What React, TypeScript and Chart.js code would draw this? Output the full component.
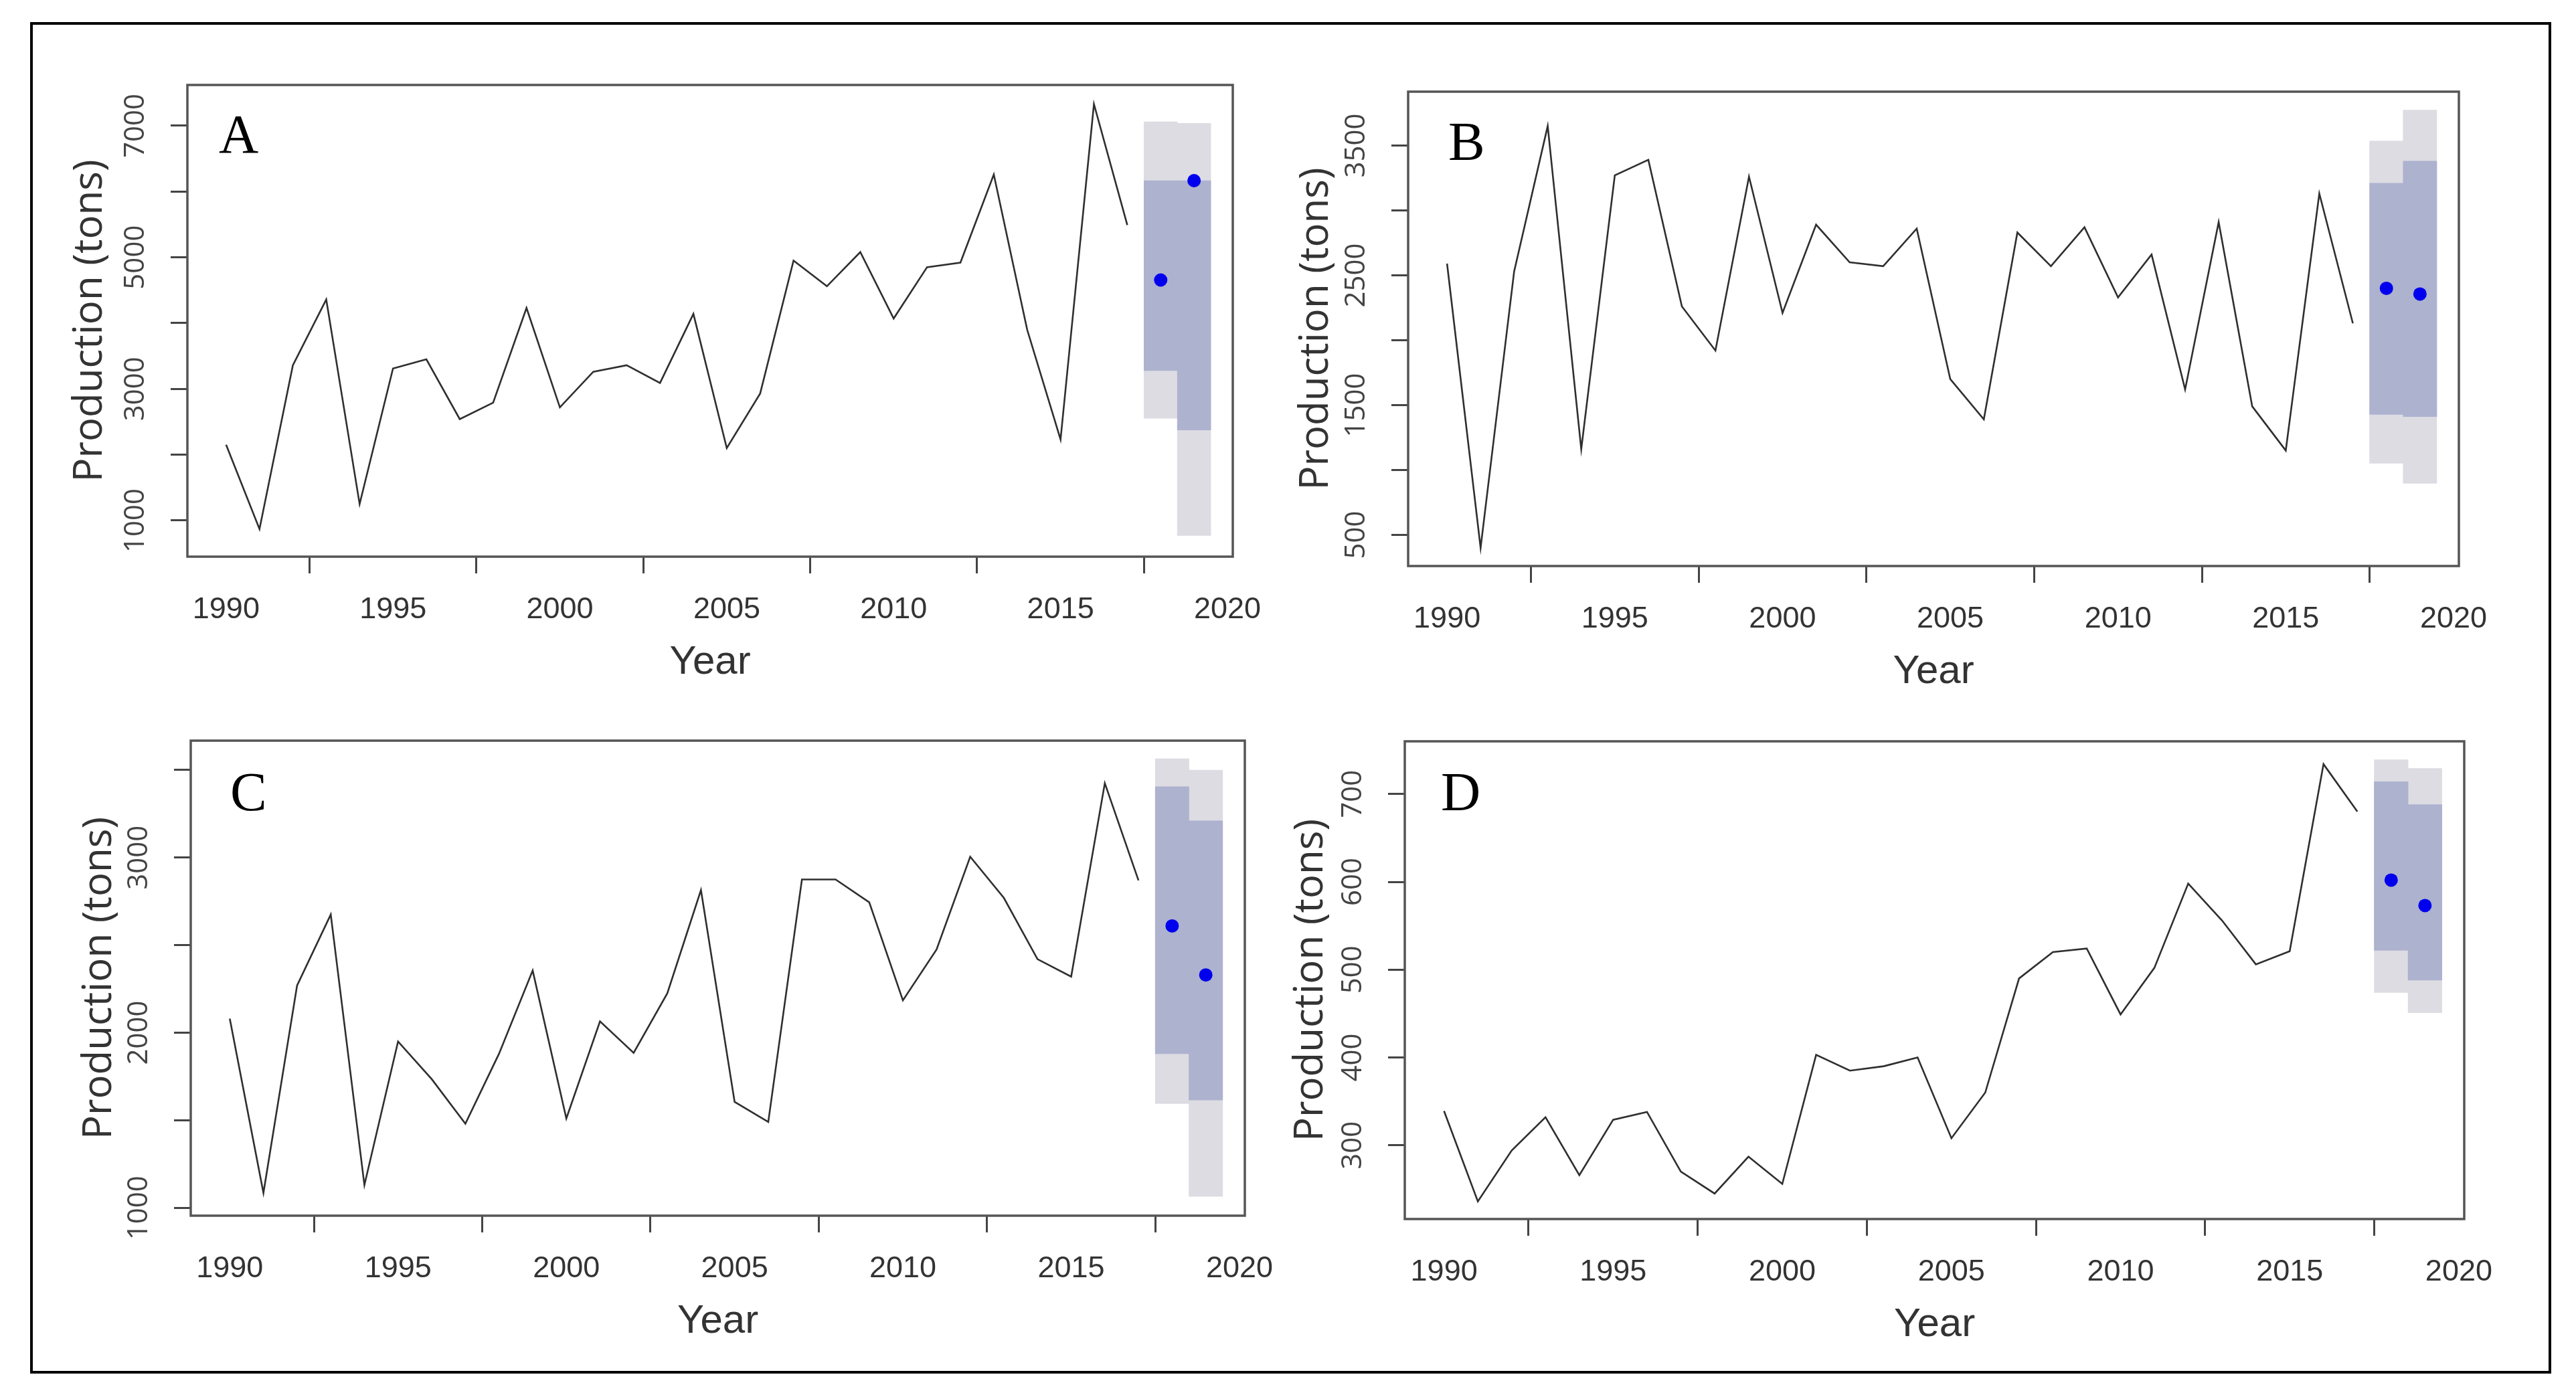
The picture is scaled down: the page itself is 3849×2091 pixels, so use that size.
import React, { useEffect, useRef } from 'react';
import { Chart, registerables } from 'chart.js';

Chart.register(...registerables);

// ---------- data ----------
const years = [
  1990, 1991, 1992, 1993, 1994, 1995, 1996, 1997, 1998, 1999,
  2000, 2001, 2002, 2003, 2004, 2005, 2006, 2007, 2008, 2009,
  2010, 2011, 2012, 2013, 2014, 2015, 2016, 2017,
];
const forecastYears = [2018, 2019];
const xTicks = [1990, 1995, 2000, 2005, 2010, 2015, 2020];
const xTickLabels = ['1990', '1995', '2000', '2005', '2010', '2015', '2020'];

// Panel A
const prodA = [2150, 870, 3360, 4360, 1250, 3310, 3450, 2540, 2790, 4230, 2720, 3260, 3360, 3090, 4140, 2100, 2930, 4950, 4560, 5080, 4070, 4850, 4920, 6260, 3900, 2230, 7330, 5490];
const fcA = [4655, 6166];
const lo80A = [3277, 2375];
const hi80A = [6166, 6166];
const lo95A = [2554, 770];
const hi95A = [7061, 7038];
const yTicksA = [1000, 2000, 3000, 4000, 5000, 6000, 7000];
const yLabelsA = ['1000', '3000', '5000', '7000'];

// Panel B
const prodB = [2590, 400, 2530, 3650, 1160, 3270, 3390, 2260, 1920, 3260, 2210, 2890, 2600, 2570, 2860, 1700, 1390, 2830, 2570, 2870, 2330, 2660, 1620, 2910, 1490, 1150, 3130, 2130];
const fcB = [2400, 2356];
const lo80B = [1428, 1411];
const hi80B = [3209, 3380];
const lo95B = [1052, 897];
const hi95B = [3535, 3773];
const yTicksB = [500, 1000, 1500, 2000, 2500, 3000, 3500];
const yLabelsB = ['500', '1500', '2500', '3500'];

// Panel C
const prodC = [2080, 1085, 2270, 2675, 1130, 1950, 1735, 1480, 1880, 2355, 1510, 2065, 1885, 2225, 2815, 1605, 1490, 2875, 2875, 2745, 2185, 2475, 3005, 2770, 2420, 2320, 3425, 2870];
const fcC = [2610, 2330];
const lo80C = [1880, 1615];
const hi80C = [3405, 3210];
const lo95C = [1595, 1065];
const hi95C = [3565, 3500];
const yTicksC = [1000, 1500, 2000, 2500, 3000, 3500];
const yLabelsC = ['1000', '2000', '3000'];

// Panel D
const prodD = [339, 236, 294, 332, 266, 329, 338, 270, 245, 287, 256, 403, 385, 390, 400, 308, 360, 490, 520, 524, 449, 502, 598, 556, 506, 521, 734, 680];
const fcD = [602, 573];
const lo80D = [522, 488];
const hi80D = [714, 688];
const lo95D = [474, 451];
const hi95D = [739, 729];
const yTicksD = [300, 400, 500, 600, 700];
const yLabelsD = ['300', '400', '500', '600', '700'];

// ---------- layout (page pixels) ----------
const LEFT_W = 260;
const TOP_PAD = 100;
const RIGHT_PAD = 100;
const BOTTOM_H = 230;

const panels = [
  { letter: 'A', prod: prodA, fc: fcA, lo80: lo80A, hi80: hi80A, lo95: lo95A, hi95: hi95A, yTicks: yTicksA, yLabels: yLabelsA,
    yMin: 450, yMax: 7620, box: [280, 127, 1842, 832], titleX: 135, letterDx: 47, letterDy: 101 },
  { letter: 'B', prod: prodB, fc: fcB, lo80: lo80B, hi80: hi80B, lo95: lo95B, hi95: hi95B, yTicks: yTicksB, yLabels: yLabelsB,
    yMin: 260, yMax: 3915, box: [2104, 137, 3674, 846], titleX: 1967, letterDx: 60, letterDy: 102 },
  { letter: 'C', prod: prodC, fc: fcC, lo80: lo80C, hi80: hi80C, lo95: lo95C, hi95: hi95C, yTicks: yTicksC, yLabels: yLabelsC,
    yMin: 955, yMax: 3668, box: [285, 1107, 1860, 1817], titleX: 149, letterDx: 59, letterDy: 104 },
  { letter: 'D', prod: prodD, fc: fcD, lo80: lo80D, hi80: hi80D, lo95: lo95D, hi95: hi95D, yTicks: yTicksD, yLabels: yLabelsD,
    yMin: 216, yMax: 760, box: [2099, 1108, 3682, 1822], titleX: 1959, letterDx: 54, letterDy: 103 },
];

const Y_TICK_FONT = { family: "'Open Sans'", size: 42 };
const X_TICK_FONT = { family: "'Liberation Sans', Arial", size: 45 };
const Y_TITLE_FONT = { family: "'Open Sans'", size: 60 };
const X_TITLE_FONT = { family: "'Liberation Sans', Arial", size: 60 };

const panelDecor = {
  id: 'panelDecor',
  afterDraw(chart: any, _args: any, opts: any) {
    const { ctx, chartArea: a } = chart;
    ctx.save();
    ctx.strokeStyle = '#555';
    ctx.lineWidth = 3.5;
    ctx.strokeRect(a.left, a.top, a.right - a.left, a.bottom - a.top);
    ctx.fillStyle = '#000';
    ctx.font = "82px 'Liberation Serif', 'Times New Roman', serif";
    ctx.textAlign = 'left';
    ctx.textBaseline = 'alphabetic';
    ctx.fillText(opts.letter, a.left + opts.dx, a.top + opts.dy);
    ctx.restore();
  },
};

function measureWidest(labels: string[]) {
  const c = document.createElement('canvas');
  const ctx = c.getContext('2d')!;
  ctx.font = `normal ${Y_TICK_FONT.size}px ${Y_TICK_FONT.family}`;
  return Math.max(...labels.map((l) => ctx.measureText(l).width));
}

function Panel({ p }: { p: any }) {
  const ref = useRef<HTMLCanvasElement | null>(null);
  const [bl, bt, br, bb] = p.box;
  const canvasLeft = bl - LEFT_W;
  const canvasTop = bt - TOP_PAD;
  const width = LEFT_W + (br - bl) + RIGHT_PAD;
  const height = TOP_PAD + (bb - bt) + BOTTOM_H;

  useEffect(() => {
    if (!ref.current) return;
    const widest = measureWidest(p.yLabels);
    const yPad = Math.max(0, 52 - widest / 2);
    const titlePad = p.titleX - canvasLeft - (Y_TITLE_FONT.size * 1.2) / 2;

    const chart = new Chart(ref.current, {
      type: 'line',
      data: {
        datasets: [
          {
            type: 'line',
            label: 'Point forecast',
            data: forecastYears.map((x, i) => ({ x, y: p.fc[i] })),
            showLine: false,
            pointRadius: 10,
            pointHoverRadius: 10,
            pointBackgroundColor: '#0000ee',
            pointBorderWidth: 0,
            borderColor: '#0000ee',
            order: 0,
          },
          {
            type: 'line',
            label: 'Production',
            data: years.map((x, i) => ({ x, y: p.prod[i] })),
            borderColor: '#2f2f2f',
            borderWidth: 2.6,
            pointRadius: 0,
            tension: 0,
            fill: false,
            order: 1,
          },
          {
            type: 'bar',
            label: '80%',
            data: forecastYears.map((x, i) => ({ x, y: [p.lo80[i], p.hi80[i]] })),
            backgroundColor: '#adb2cf',
            borderWidth: 0,
            grouped: false,
            categoryPercentage: 1,
            barPercentage: 1,
            order: 2,
          },
          {
            type: 'bar',
            label: '95%',
            data: forecastYears.map((x, i) => ({ x, y: [p.lo95[i], p.hi95[i]] })),
            backgroundColor: '#dcdce2',
            borderWidth: 0,
            grouped: false,
            categoryPercentage: 1,
            barPercentage: 1,
            order: 3,
          },
        ],
      } as any,
      options: {
        animation: false,
        responsive: false,
        devicePixelRatio: 1,
        layout: { padding: { left: 0, top: TOP_PAD, right: RIGHT_PAD, bottom: 0 } },
        plugins: {
          legend: { display: false },
          tooltip: { enabled: false },
          panelDecor: { letter: p.letter, dx: p.letterDx, dy: p.letterDy },
        } as any,
        scales: {
          x: {
            type: 'linear',
            min: 1988.84,
            max: 2020.16,
            offset: false,
            afterBuildTicks: (s: any) => { s.ticks = xTicks.map((v) => ({ value: v })); },
            afterFit: (s: any) => { s.height = BOTTOM_H; },
            ticks: {
              autoSkip: false,
              minRotation: 0,
              maxRotation: 0,
              padding: 28,
              color: '#333',
              font: X_TICK_FONT,
              callback: (v: any) => (xTickLabels.includes(String(v)) ? String(v) : ''),
            },
            grid: { display: true, drawOnChartArea: false, drawTicks: true, tickLength: 25, tickWidth: 3, tickColor: '#444' },
            border: { display: false },
            title: { display: true, text: 'Year', color: '#333', font: X_TITLE_FONT, padding: { top: 0, bottom: 36 } },
          },
          y: {
            type: 'linear',
            min: p.yMin,
            max: p.yMax,
            afterBuildTicks: (s: any) => { s.ticks = p.yTicks.map((v: number) => ({ value: v })); },
            afterFit: (s: any) => { s.width = LEFT_W; },
            ticks: {
              autoSkip: false,
              minRotation: 90,
              maxRotation: 90,
              crossAlign: 'center',
              padding: yPad,
              color: '#444',
              font: Y_TICK_FONT,
              callback: (v: any) => (p.yLabels.includes(String(v)) ? String(v) : ''),
            },
            grid: { display: true, drawOnChartArea: false, drawTicks: true, tickLength: 25, tickWidth: 3, tickColor: '#444' },
            border: { display: false },
            title: { display: true, text: 'Production (tons)', color: '#333', font: Y_TITLE_FONT, padding: { top: titlePad, bottom: 0 } },
          },
        },
      } as any,
      plugins: [panelDecor as any],
    });
    return () => chart.destroy();
  }, []);

  return (
    <canvas
      ref={ref}
      width={width}
      height={height}
      style={{ position: 'absolute', left: canvasLeft, top: canvasTop, width, height }}
    />
  );
}

export default function App() {
  useEffect(() => {
    document.body.style.margin = '0';
    document.body.style.overflow = 'hidden';
  }, []);
  return (
    <div style={{ position: 'absolute', left: 0, top: 0, width: 3849, height: 2091, background: '#fff', overflow: 'hidden' }}>
      <div
        style={{
          position: 'absolute', left: 45, top: 33, width: 3767, height: 2020,
          border: '4px solid #000', boxSizing: 'border-box',
        }}
      />
      {panels.map((p) => (
        <Panel key={p.letter} p={p} />
      ))}
    </div>
  );
}
